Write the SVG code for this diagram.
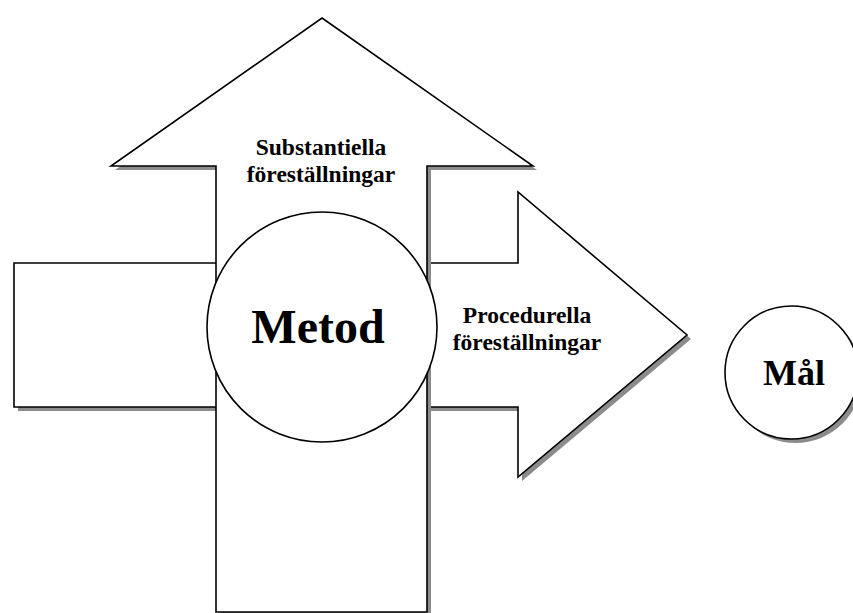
<svg xmlns="http://www.w3.org/2000/svg" xmlns:xlink="http://www.w3.org/1999/xlink" width="853" height="613" viewBox="0 0 853 613">
  <style>
    .shape { fill: #ffffff; stroke: #000000; stroke-width: 1.6; stroke-linejoin: miter; }
    .shadow { fill: #8c8c8c; stroke: none; }
    .label { font-family: "Liberation Serif", "Times New Roman", serif; font-weight: bold; fill: #000000; text-anchor: middle; }
    .small { font-size: 23.5px; }
  </style>
  <defs>
    <path id="arrowRight" d="M14,263 L518,263 L518,192 L687,335 L518,477 L518,407 L14,407 Z"/>
    <path id="arrowUp" d="M322,18 L533,166 L427,166 L427,612 L216,612 L216,166 L111,166 Z"/>
    <circle id="goalCircle" cx="791.5" cy="372.5" r="66.5"/>
  </defs>
  <rect width="853" height="613" fill="#ffffff"/>

  <g id="procedural-arrow">
    <use xlink:href="#arrowRight" class="shadow" transform="translate(4,4)"/>
    <use xlink:href="#arrowRight" class="shape"/>
    <text class="label small" x="527" y="323">Procedurella</text>
    <text class="label small" x="527" y="350">föreställningar</text>
  </g>

  <g id="substantial-arrow">
    <use xlink:href="#arrowUp" class="shadow" transform="translate(4,4)"/>
    <use xlink:href="#arrowUp" class="shape"/>
    <text class="label small" x="321" y="155">Substantiella</text>
    <text class="label small" x="321" y="182">föreställningar</text>
  </g>

  <g id="method">
    <circle class="shape" cx="322" cy="327" r="115"/>
    <text class="label" x="318" y="343" font-size="48">Metod</text>
  </g>

  <g id="goal">
    <use xlink:href="#goalCircle" class="shadow" transform="translate(4,4)"/>
    <use xlink:href="#goalCircle" class="shape"/>
    <text class="label" x="794" y="385" font-size="36">Mål</text>
  </g>

  <g id="connectors"/>
</svg>
